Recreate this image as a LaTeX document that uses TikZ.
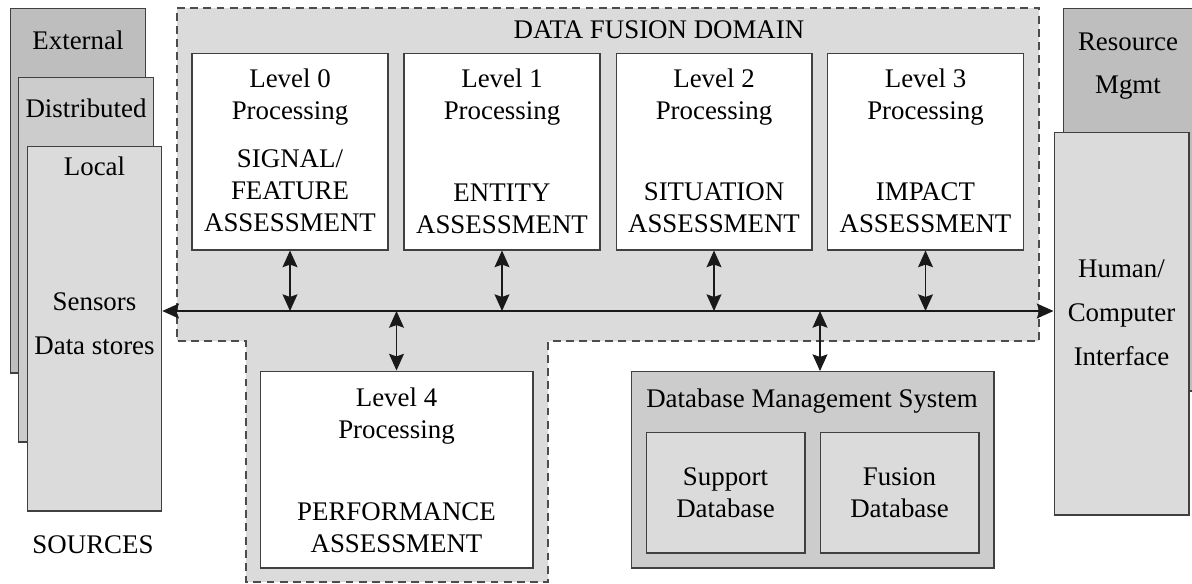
\documentclass[tikz,border=0pt]{standalone}
\usepackage{fontspec}
\setmainfont{Liberation Serif}
\usetikzlibrary{arrows.meta}
\definecolor{lightfill}{gray}{0.86}
\definecolor{midfill}{gray}{0.8}
\definecolor{darkfill}{gray}{0.745}

\begin{document}
\begin{tikzpicture}[x=0.02cm,y=-0.02cm]
\tikzset{box/.style={draw=black!75, line width=0.6pt, inner sep=0pt}}
\tikzset{lvl/.style={box, fill=white, minimum width=3.92cm, minimum height=3.94cm}}
\tikzset{src/.style={box, minimum width=2.69cm, minimum height=7.3cm}}
\tikzset{dbx/.style={box, fill=lightfill, minimum width=3.18cm, minimum height=2.42cm}}
\tikzset{txt/.style={align=center, inner sep=0pt, font=\fontsize{15.3}{18.2}\selectfont}}
\tikzset{wtxt/.style={align=center, inner sep=0pt, font=\fontsize{15.3}{25}\selectfont}}
\tikzset{arr/.style={{Stealth[length=9.5pt,width=8.5pt,inset=1.5pt]}-{Stealth[length=9.5pt,width=8.5pt,inset=1.5pt]}, draw=black!90, line width=0.65pt}}

\useasboundingbox (0,0) rectangle (1192,583);

\draw[fill=lightfill, draw=black!70, line width=0.6pt, dash pattern=on 4.5pt off 3pt]
  (177,8) -- (1039,8) -- (1039,341) -- (548,341) -- (548,582)
  -- (246,582) -- (246,341) -- (177,341) -- cycle;

\node [src, fill=darkfill] (ext) at (78,190.5) {};
\node [src, fill=midfill] (dist) at (86,259.5) {};
\node [src, fill=lightfill] (loc) at (94.5,328.5) {};
\node [box, fill=darkfill, minimum width=2.64cm, minimum height=7.66cm] (res) at (1129,199.5) {};
\node [box, fill=lightfill, minimum width=2.7cm, minimum height=7.66cm] (hci) at (1121.5,323.5) {};

\node [lvl] (l0) at (290,151.5) {};
\node [lvl] (l1) at (502,151.5) {};
\node [lvl] (l2) at (714,151.5) {};
\node [lvl] (l3) at (925.5,151.5) {};
\node [lvl, minimum width=5.46cm] (l4) at (396.5,469.5) {};
\node [box, fill=midfill, minimum width=7.26cm, minimum height=3.94cm] (db) at (812.5,469.5) {};
\node [dbx] (sdb) at (725.5,492.5) {};
\node [dbx] (fdb) at (899.5,492.5) {};

\begin{scope}[every node/.style={txt}]
\node (extT) at (78,40) {External};
\node (distT) at (86,108) {Distributed};
\node (locT) at (94.5,166) {Local};
\node [wtxt] (locS) at (94.5,324) {Sensors\\Data stores};
\node (srcT) at (93,545) {SOURCES};
\node (domT) at (659,30) {DATA FUSION DOMAIN};
\node (resT) at (1128,66) {Resource\\[6pt]Mgmt};
\node [wtxt] (hciT) at (1121.5,313) {Human/\\Computer\\Interface};
\node (l0a) at (290,97) {Level 0\\Processing};
\node (l0b) at (290,190.5) {SIGNAL/\\FEATURE\\ASSESSMENT};
\node (l1a) at (502,97) {Level 1\\Processing};
\node (l1b) at (502,209) {ENTITY\\ASSESSMENT};
\node (l2a) at (714,97) {Level 2\\Processing};
\node (l2b) at (714,207.5) {SITUATION\\ASSESSMENT};
\node (l3a) at (925.5,97) {Level 3\\Processing};
\node (l3b) at (925.5,207.5) {IMPACT\\ASSESSMENT};
\node (l4a) at (396.5,416.5) {Level 4\\Processing};
\node (l4b) at (396.5,527.5) {PERFORMANCE\\ASSESSMENT};
\node (dbT) at (812,401) {Database Management System};
\node (sdbT) at (725.5,493) {Support\\Database};
\node (fdbT) at (899.5,493) {Fusion\\Database};
\end{scope}

\coordinate (bus) at (600,311);
\coordinate (dbin) at (820,371);
\begin{scope}[every edge/.style={arr}]
\path (loc.east |- bus) edge (hci.west |- bus);
\path (l0) edge (l0 |- bus);
\path (l1) edge (l1 |- bus);
\path (l2) edge (l2 |- bus);
\path (l3) edge (l3 |- bus);
\path (l4) edge (l4 |- bus);
\path (dbin) edge (dbin |- bus);
\end{scope}

\end{tikzpicture}
\end{document}
